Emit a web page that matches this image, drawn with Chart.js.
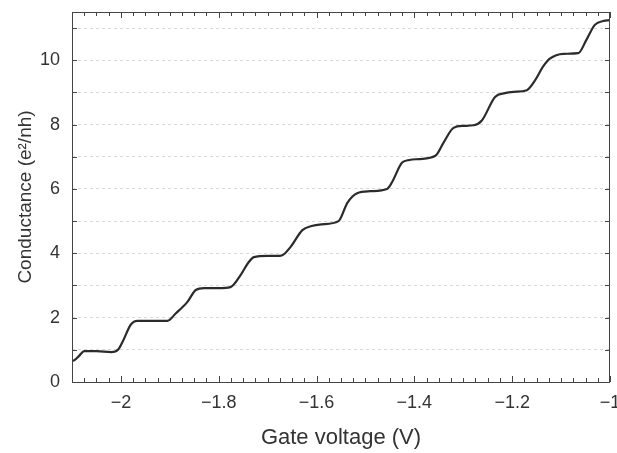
<!DOCTYPE html>
<html>
<head>
<meta charset="utf-8">
<script src="https://cdn.jsdelivr.net/npm/chart.js@4.4.1/dist/chart.umd.min.js"></script>
<style>
  html, body { margin: 0; padding: 0; background: #fff; overflow: hidden; }
  #wrap { width: 617px; height: 453px; }
</style>
</head>
<body>
<div id="wrap"><canvas id="c" width="617" height="453"></canvas></div>
<script>
// ---- data ----
const gateVoltage = [
  -2.100, -2.095, -2.085, -2.075, -2.050, -2.020, -2.005, -1.995, -1.980, -1.966,
  -1.940, -1.905, -1.888, -1.864, -1.847, -1.830, -1.800, -1.776, -1.755, -1.740,
  -1.728, -1.700, -1.672, -1.653, -1.629, -1.610, -1.590, -1.555, -1.537, -1.517,
  -1.490, -1.456, -1.446, -1.425, -1.410, -1.390, -1.357, -1.340, -1.320, -1.300,
  -1.279, -1.262, -1.235, -1.215, -1.197, -1.170, -1.153, -1.137, -1.123, -1.095,
  -1.065, -1.048, -1.031, -1.014, -1.000
];
const conductance = [
  0.65, 0.68, 0.82, 0.96, 0.96, 0.93, 1.02, 1.30, 1.78, 1.90,
  1.90, 1.90, 2.13, 2.49, 2.86, 2.92, 2.92, 2.95, 3.33, 3.70,
  3.88, 3.92, 3.93, 4.20, 4.72, 4.85, 4.90, 5.00, 5.57, 5.87,
  5.93, 6.00, 6.20, 6.82, 6.90, 6.93, 7.03, 7.45, 7.90, 7.96,
  7.98, 8.13, 8.86, 8.98, 9.02, 9.07, 9.38, 9.80, 10.05, 10.20,
  10.22, 10.64, 11.10, 11.22, 11.25
];
const xTickValues = [-2, -1.8, -1.6, -1.4, -1.2, -1];
const yTickValues = [0, 1, 2, 3, 4, 5, 6, 7, 8, 9, 10, 11];
const yLabelValues = [0, 2, 4, 6, 8, 10];
const xTitle = 'Gate voltage (V)';
const yTitle = 'Conductance (e\u00B2/nh)';

const FONT = '"Liberation Sans", Arial, Helvetica, sans-serif';
const TEXT = '#333';

const points = gateVoltage.map((v, i) => ({ x: v, y: conductance[i] }));

function fmt(v) {
  const a = Math.abs(v);
  return (v < 0 ? '\u2212' : '') + String(Math.round(a * 100) / 100);
}

// frame + inward ticks, positioned through the scales
const framePlugin = {
  id: 'frame',
  afterDraw(chart) {
    const { ctx, chartArea: a } = chart;
    const xs = chart.scales.x, ys = chart.scales.y;
    ctx.save();
    ctx.strokeStyle = '#444';
    ctx.lineWidth = 1;
    ctx.strokeRect(Math.round(a.left) + 0.5, Math.round(a.top) + 0.5,
                   Math.round(a.right - a.left) - 1, Math.round(a.bottom - a.top));
    ctx.beginPath();
    const step = 0.025;
    for (let k = Math.ceil(xs.min / step - 1e-6); k * step <= xs.max + 1e-9; k++) {
      const v = k * step;
      const px = Math.round(xs.getPixelForValue(v)) + 0.5;
      const major = Math.abs(v * 5 - Math.round(v * 5)) < 1e-6;
      const len = major ? 6 : 4;
      ctx.moveTo(px, a.bottom); ctx.lineTo(px, a.bottom - len);
      ctx.moveTo(px, a.top); ctx.lineTo(px, a.top + len);
    }
    yTickValues.forEach(v => {
      const py = Math.round(ys.getPixelForValue(v)) + 0.5;
      ctx.moveTo(a.left, py); ctx.lineTo(a.left + 5, py);
      ctx.moveTo(a.right, py); ctx.lineTo(a.right - 5, py);
    });
    ctx.stroke();
    ctx.restore();
  }
};

new Chart(document.getElementById('c'), {
  type: 'line',
  data: {
    datasets: [{
      data: points,
      borderColor: '#2b2b2b',
      borderWidth: 2.2,
      pointRadius: 0,
      fill: false,
      cubicInterpolationMode: 'monotone'
    }]
  },
  options: {
    responsive: false,
    animation: false,
    parsing: false,
    layout: { padding: { left: 0, right: 7, top: 12, bottom: 0 } },
    plugins: { legend: { display: false }, tooltip: { enabled: false } },
    scales: {
      x: {
        type: 'linear',
        min: -2.1,
        max: -1,
        afterBuildTicks: s => { s.ticks = xTickValues.map(v => ({ value: v })); },
        afterFit: s => { s.height = 71; s.paddingLeft = 0; s.paddingRight = 0; },
        grid: { display: false, drawTicks: false },
        border: { display: false },
        ticks: {
          autoSkip: false,
          maxRotation: 0,
          padding: 10,
          color: TEXT,
          font: { family: FONT, size: 18 },
          callback: v => fmt(v)
        },
        title: {
          display: true,
          text: xTitle,
          color: TEXT,
          font: { family: FONT, size: 22 },
          padding: { top: 0, bottom: 2 }
        }
      },
      y: {
        type: 'linear',
        min: 0,
        max: 11.5,
        afterBuildTicks: s => { s.ticks = yTickValues.map(v => ({ value: v })); },
        afterFit: s => { s.width = 72; s.paddingTop = 0; s.paddingBottom = 0; },
        grid: { color: '#d9d9d9', lineWidth: 1, drawTicks: false },
        border: { display: false, dash: [3, 3] },
        ticks: {
          autoSkip: false,
          padding: 12,
          color: TEXT,
          font: { family: FONT, size: 18 },
          callback: v => (yLabelValues.includes(v) ? fmt(v) : '')
        },
        title: {
          display: true,
          text: yTitle,
          color: TEXT,
          font: { family: FONT, size: 19 },
          padding: { top: 14, bottom: 0 }
        }
      }
    }
  },
  plugins: [framePlugin]
});
</script>
</body>
</html>
